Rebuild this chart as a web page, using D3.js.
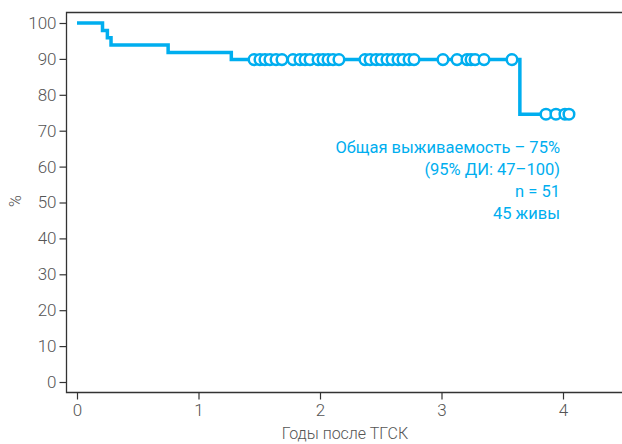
<!DOCTYPE html>
<html>
<head>
<meta charset="utf-8">
<script src="https://cdn.jsdelivr.net/npm/d3@7/dist/d3.min.js"></script>
<style>
  html, body { margin: 0; padding: 0; background: #fff; }
  svg { display: block; }
</style>
</head>
<body>
<svg id="chart" width="622" height="444"></svg>
<script>
// Kaplan–Meier overall survival after HSCT
const stepTimes  = [0, 0.21, 0.25, 0.28, 0.75, 1.27, 3.645];   // years
const stepValues = [100, 97.9, 95.9, 93.9, 91.8, 89.8, 74.6];  // % surviving
const censoredTimes = [
  1.457, 1.506, 1.547, 1.588, 1.638, 1.687,
  1.778, 1.835, 1.877, 1.918,
  1.984, 2.025, 2.066, 2.107, 2.156,
  2.370, 2.412, 2.461, 2.502, 2.551, 2.593, 2.642, 2.683, 2.733, 2.774,
  3.012, 3.128, 3.210, 3.243, 3.276, 3.350, 3.580,
  3.860, 3.942, 4.016, 4.049
];
const endTime = 4.049;
const xTicks = [0, 1, 2, 3, 4];
const yTicks = [0, 10, 20, 30, 40, 50, 60, 70, 80, 90, 100];
const summaryLines = [
  "Общая выживаемость – 75%",
  "(95% ДИ: 47–100)",
  "n = 51",
  "45 живы"
];
const xTitle = "Годы после ТГСК";
const yTitle = "%";

const blue = "#00aeef";
const axisColor = "#333";
const labelColor = "#555";
const font = "Roboto, 'Noto Sans', sans-serif";

const svg = d3.select("#chart");
const x = d3.scaleLinear().domain([0, 4]).range([77, 563]);
const y = d3.scaleLinear().domain([0, 100]).range([382, 23]);

const frameLeft = 66.5, frameRight = 622, frameTop = 12.5, frameBottom = 392.5;

// frame: left, bottom and top edges
svg.append("path")
  .attr("d", `M${frameRight},${frameTop}H${frameLeft}V${frameBottom}H${frameRight}`)
  .attr("fill", "none").attr("stroke", axisColor).attr("stroke-width", 1.3);

// y axis ticks
const yAxis = d3.axisLeft(y).tickValues(yTicks).tickFormat(d3.format("d"))
  .tickSize(7).tickPadding(3);
const gy = svg.append("g").attr("transform", `translate(${frameLeft},0)`).call(yAxis);
gy.select(".domain").remove();
gy.selectAll(".tick line").attr("stroke", axisColor).attr("stroke-width", 1.2);
gy.selectAll(".tick text").attr("fill", labelColor)
  .style("font-family", font).style("font-size", "17px").style("font-weight", 300);

// x axis ticks
const xAxis = d3.axisBottom(x).tickValues(xTicks).tickFormat(d3.format("d"))
  .tickSize(7).tickPadding(4);
const gx = svg.append("g").attr("transform", `translate(0,${frameBottom})`).call(xAxis);
gx.select(".domain").remove();
gx.selectAll(".tick line").attr("stroke", axisColor).attr("stroke-width", 1.2);
gx.selectAll(".tick text").attr("fill", labelColor)
  .style("font-family", font).style("font-size", "17px").style("font-weight", 300);

// axis titles
svg.append("text").attr("x", 345).attr("y", 439)
  .attr("text-anchor", "middle").attr("fill", labelColor)
  .style("font-family", font).style("font-size", "16px").style("font-weight", 300)
  .text(xTitle);
svg.append("text").attr("transform", "translate(21,201) rotate(-90)")
  .attr("text-anchor", "middle").attr("fill", labelColor)
  .style("font-family", font).style("font-size", "16px").style("font-weight", 300)
  .text(yTitle);

// survival step curve
const pts = stepTimes.map((t, i) => [t, stepValues[i]]);
pts.push([endTime, stepValues[stepValues.length - 1]]);
const line = d3.line().x(d => x(d[0])).y(d => y(d[1])).curve(d3.curveStepAfter);
svg.append("path").datum(pts)
  .attr("d", line)
  .attr("fill", "none").attr("stroke", blue).attr("stroke-width", 3.5)
  .attr("stroke-linejoin", "miter");

// survival value at time t
function survivalAt(t) {
  let v = stepValues[0];
  stepTimes.forEach((s, i) => { if (s <= t) v = stepValues[i]; });
  return v;
}

// censored observations
svg.append("g").selectAll("circle").data(censoredTimes).join("circle")
  .attr("cx", d => x(d)).attr("cy", d => y(survivalAt(d)))
  .attr("r", 5.3)
  .attr("fill", "#fff").attr("stroke", blue).attr("stroke-width", 2.5);

// summary annotation
svg.append("g").selectAll("text").data(summaryLines).join("text")
  .attr("x", 560).attr("y", (d, i) => 153 + i * 22)
  .attr("text-anchor", "end").attr("fill", blue)
  .style("font-family", font).style("font-size", "16.5px").style("font-weight", 400)
  .text(d => d);
</script>
</body>
</html>
